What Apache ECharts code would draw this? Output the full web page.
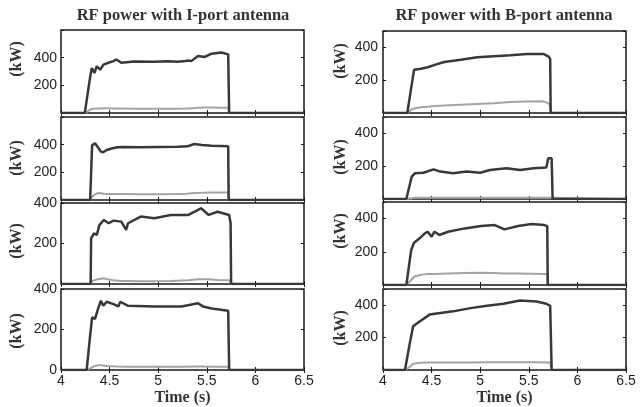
<!DOCTYPE html>
<html><head><meta charset="utf-8">
<script src="https://cdn.jsdelivr.net/npm/echarts@6/dist/echarts.min.js"></script>
<style>html,body{margin:0;padding:0;background:#fff}#c{width:643px;height:407px}</style>
</head><body><div id="c"></div>
<script>
// ---------- data ----------
const titles = ['RF power with I-port antenna', 'RF power with B-port antenna'];
const xName = 'Time (s)';
const yName = '(kW)';
const xMin = 4, xMax = 6.5, xStep = 0.5;

// I-port panels (left column)
const L1_t   = [4.0, 4.245, 4.27, 4.30, 4.317, 4.344, 4.368, 4.402, 4.437, 4.488, 4.54, 4.57, 4.62, 4.75, 4.96, 5.1, 5.2, 5.28, 5.31, 5.34, 5.41, 5.48, 5.55, 5.65, 5.72, 5.73, 6.5];
const L1_fwd = [0, 0, 120, 260, 325, 289, 338, 313, 350, 363, 375, 387, 363, 372, 370, 374, 371, 376, 380, 375, 412, 405, 429, 437, 424, 0, 0];
const L1_ref = [0, 0, 10, 25, 30, 32, 33, 33, 35, 34, 33, 32, 32, 30, 30, 30, 31, 32, 33, 35, 38, 40, 40, 38, 38, 0, 0];

const L2_t   = [4.0, 4.30, 4.31, 4.32, 4.35, 4.38, 4.41, 4.435, 4.47, 4.52, 4.58, 4.65, 4.8, 5.0, 5.2, 5.3, 5.37, 5.45, 5.55, 5.65, 5.72, 5.725, 6.5];
const L2_fwd = [0, 0, 200, 395, 410, 381, 350, 345, 361, 372, 381, 383, 381, 384, 385, 388, 405, 398, 393, 390, 388, 0, 0];
const L2_ref = [0, 0, 10, 25, 40, 50, 48, 45, 44, 43, 43, 43, 42, 42, 43, 45, 50, 52, 55, 55, 55, 0, 0];

const L3_t   = [4.0, 4.305, 4.31, 4.34, 4.368, 4.395, 4.44, 4.49, 4.54, 4.62, 4.67, 4.69, 4.82, 4.96, 5.13, 5.31, 5.41, 5.44, 5.52, 5.61, 5.73, 5.745, 5.75, 6.5];
const L3_fwd = [0, 0, 226, 250, 242, 291, 316, 300, 313, 308, 267, 300, 333, 325, 341, 341, 366, 374, 341, 357, 341, 300, 0, 0];
const L3_ref = [0, 0, 10, 18, 22, 25, 28, 22, 18, 15, 15, 14, 14, 14, 15, 18, 23, 24, 23, 20, 18, 15, 0, 0];

const L4_t   = [4.0, 4.264, 4.30, 4.32, 4.35, 4.38, 4.41, 4.435, 4.47, 4.54, 4.59, 4.61, 4.69, 4.96, 5.24, 5.41, 5.46, 5.55, 5.72, 5.73, 6.5];
const L4_fwd = [0, 0, 171, 260, 252, 301, 342, 317, 337, 325, 314, 337, 317, 314, 314, 330, 314, 304, 293, 0, 0];
const L4_ref = [0, 0, 8, 14, 20, 23, 24, 22, 20, 18, 17, 17, 16, 16, 16, 17, 17, 16, 16, 0, 0];

// B-port panels (right column)
const R1_t   = [4.0, 4.25, 4.29, 4.32, 4.39, 4.46, 4.54, 4.63, 4.80, 4.97, 5.14, 5.31, 5.48, 5.65, 5.70, 5.72, 5.725, 6.5];
const R1_fwd = [0, 0, 153, 264, 270, 279, 295, 311, 325, 340, 346, 352, 360, 360, 346, 330, 0, 0];
const R1_ref = [0, 0, 20, 28, 35, 38, 42, 45, 50, 55, 60, 67, 70, 71, 60, 45, 0, 0];

const R2_t   = [4.0, 4.24, 4.295, 4.33, 4.415, 4.52, 4.59, 4.72, 4.86, 5.00, 5.10, 5.27, 5.41, 5.55, 5.68, 5.69, 5.70, 5.735, 5.745, 6.5];
const R2_fwd = [0, 0, 136, 157, 160, 181, 167, 157, 167, 160, 177, 187, 177, 187, 192, 197, 248, 248, 0, 0];
const R2_ref = [0, 0, 5, 8, 8, 8, 8, 8, 8, 8, 8, 8, 8, 8, 8, 8, 8, 8, 0, 0];

const R3_t   = [4.0, 4.24, 4.29, 4.32, 4.377, 4.43, 4.46, 4.50, 4.53, 4.58, 4.67, 4.84, 5.01, 5.15, 5.25, 5.39, 5.53, 5.66, 5.69, 5.695, 6.5];
const R3_fwd = [0, 0, 211, 255, 281, 311, 321, 291, 321, 301, 321, 341, 355, 361, 335, 355, 367, 361, 355, 0, 0];
const R3_ref = [0, 0, 30, 50, 60, 64, 66, 66, 67, 68, 70, 72, 74, 72, 70, 70, 68, 66, 65, 0, 0];

const R4_t   = [4.0, 4.226, 4.277, 4.31, 4.38, 4.48, 4.59, 4.72, 4.90, 5.07, 5.24, 5.41, 5.58, 5.68, 5.72, 5.735, 6.5];
const R4_fwd = [0, 0, 169, 270, 301, 342, 352, 362, 382, 396, 409, 429, 423, 409, 396, 0, 0];
const R4_ref = [0, 0, 20, 38, 45, 46, 46, 47, 47, 48, 48, 48, 48, 47, 46, 0, 0];

// y ranges and which y tick labels are printed
const yMaxes  = [600, 600, 400, 400, 500, 500, 500, 500];
const yLabels = [[200, 400], [200, 400], [200, 400], [0, 200, 400], [200, 400], [200, 400], [200, 400], [200, 400]];

// ---------- layout / style ----------
const panels = [
  {t: L1_t, f: L1_fwd, r: L1_ref}, {t: L2_t, f: L2_fwd, r: L2_ref},
  {t: L3_t, f: L3_fwd, r: L3_ref}, {t: L4_t, f: L4_fwd, r: L4_ref},
  {t: R1_t, f: R1_fwd, r: R1_ref}, {t: R2_t, f: R2_fwd, r: R2_ref},
  {t: R3_t, f: R3_fwd, r: R3_ref}, {t: R4_t, f: R4_fwd, r: R4_ref}
];
const boxes = [
  {left: 61, top: 30, width: 243, height: 83},
  {left: 61, top: 117, width: 243, height: 83},
  {left: 61, top: 203, width: 243, height: 81},
  {left: 61, top: 289, width: 243, height: 82},
  {left: 383, top: 31, width: 243, height: 82},
  {left: 383, top: 117, width: 243, height: 82},
  {left: 383, top: 202, width: 243, height: 83},
  {left: 383, top: 289, width: 243, height: 82}
];
const yNamePos = [[17, 59], [17, 158], [17, 241], [17, 331], [341, 61], [341, 157], [341, 231], [341, 328]];
const serif = '"Liberation Serif", "DejaVu Serif", serif';
const sans = '"Liberation Sans", Arial, sans-serif';
const darkCol = '#383838', lightCol = '#a3a3a3', axisCol = '#1a1a1a';

const grid = [], xAxis = [], yAxis = [], series = [];
panels.forEach((p, i) => {
  grid.push(Object.assign({show: true, borderColor: axisCol, borderWidth: 1.5, backgroundColor: '#fff'}, boxes[i]));
  const bottomRow = (i === 3 || i === 7);
  const tick = {show: true, inside: true, length: 3, lineStyle: {color: axisCol, width: 1}};
  xAxis.push({
    type: 'value', gridIndex: i, min: xMin, max: xMax, interval: xStep, position: 'bottom',
    axisLine: {show: false}, axisTick: tick, splitLine: {show: false},
    axisLabel: {show: bottomRow, color: '#222', fontFamily: sans, fontSize: 14, margin: 4},
    name: bottomRow ? xName : '', nameLocation: 'middle', nameGap: 20,
    nameTextStyle: {fontFamily: serif, fontWeight: 'bold', fontSize: 16, color: '#333'}
  });
  xAxis.push({
    type: 'value', gridIndex: i, min: xMin, max: xMax, interval: xStep, position: 'top',
    axisLine: {show: false}, axisTick: tick, splitLine: {show: false}, axisLabel: {show: false}
  });
  const labs = yLabels[i];
  yAxis.push({
    type: 'value', gridIndex: i, min: 0, max: yMaxes[i], interval: 200, position: 'left',
    axisLine: {show: false}, axisTick: tick, splitLine: {show: false},
    axisLabel: {color: '#222', fontFamily: sans, fontSize: 14, margin: i < 4 ? 4 : 5,
      formatter: v => labs.indexOf(v) >= 0 ? String(v) : ''}
  });
  yAxis.push({
    type: 'value', gridIndex: i, min: 0, max: yMaxes[i], interval: 200, position: 'right',
    axisLine: {show: false}, axisTick: tick, splitLine: {show: false}, axisLabel: {show: false}
  });
  series.push({
    type: 'line', xAxisIndex: 2 * i, yAxisIndex: 2 * i, showSymbol: false, silent: true,
    data: p.t.map((x, k) => [x, p.r[k]]), lineStyle: {color: lightCol, width: 2}, z: 2
  });
  series.push({
    type: 'line', xAxisIndex: 2 * i, yAxisIndex: 2 * i, showSymbol: false, silent: true,
    data: p.t.map((x, k) => [x, p.f[k]]), lineStyle: {color: darkCol, width: 2.5}, z: 3
  });
});

const graphic = [
  {type: 'text', x: 183, y: 16, style: {text: titles[0], fill: '#333', font: 'bold 16.5px ' + serif, textAlign: 'center', textVerticalAlign: 'middle'}},
  {type: 'text', x: 504, y: 16, style: {text: titles[1], fill: '#333', font: 'bold 16.5px ' + serif, textAlign: 'center', textVerticalAlign: 'middle'}}
];
yNamePos.forEach(pos => {
  graphic.push({type: 'text', x: pos[0], y: pos[1], rotation: Math.PI / 2,
    style: {text: yName, fill: '#333', font: 'bold 16px ' + serif, textAlign: 'center', textVerticalAlign: 'middle'}});
});

const chart = echarts.init(document.getElementById('c'), null, {renderer: 'canvas'});
chart.setOption({animation: false, backgroundColor: '#fff', grid, xAxis, yAxis, series, graphic});
</script></body></html>
